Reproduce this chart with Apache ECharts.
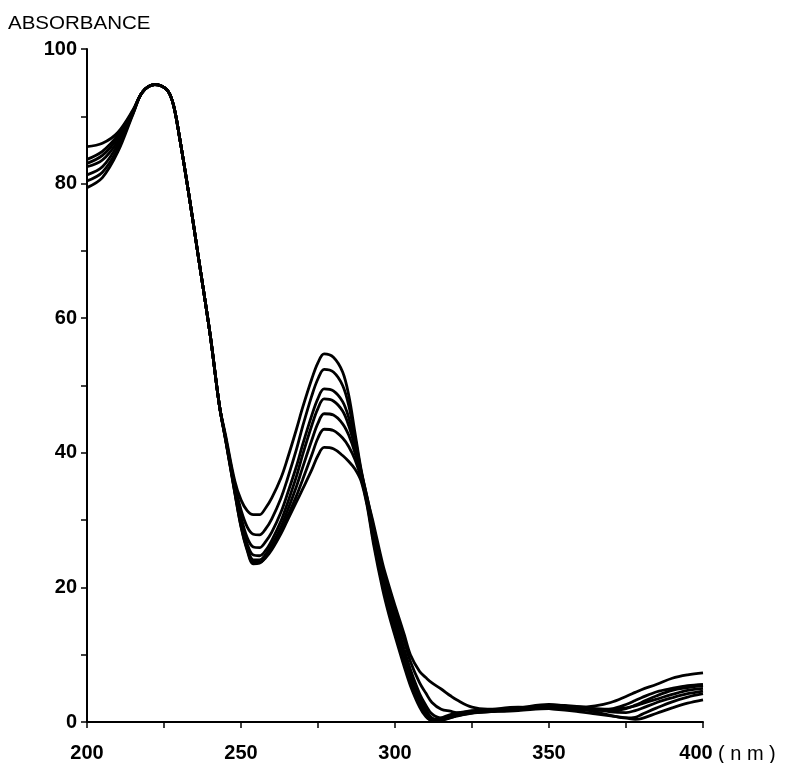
<!DOCTYPE html>
<html>
<head>
<meta charset="utf-8">
<script src="https://cdn.jsdelivr.net/npm/echarts@6/dist/echarts.min.js"></script>
<style>html,body{margin:0;padding:0;background:#fff;}#c{width:785px;height:763px;}</style>
</head>
<body>
<div id="c"></div>
<script>
// wavelength grid (nm)
const wavelength = [200,205,210,215,218,222,226,228,230,233,236,240,243,245,248,250,252,254,256,258,260,263,265,268,270,273,275,277,280,283,285,287,289,291,293,296,298,300,303,305,308,310,312,315,318,320,325,330,340,350,360,365,370,375,378,380,385,390,395,400];

const curve1 = [85.5,86.0,87.6,91.0,93.6,94.7,93.9,91.8,87.0,78.6,69.6,57.5,47.0,42.6,35.8,33.0,31.4,30.8,30.8,31.8,33.3,36.3,39.0,43.5,46.7,51.0,53.4,54.7,54.2,52.0,48.5,43.0,37.5,33.2,29.5,23.5,20.3,17.3,13.0,10.0,7.5,6.6,5.8,4.9,3.9,3.3,2.2,1.9,2.0,2.3,2.2,2.4,2.9,3.8,4.4,4.8,5.6,6.5,7.0,7.3];
const curve2 = [83.6,84.8,87.2,90.9,93.6,94.7,93.9,91.8,87.0,78.6,69.6,57.5,47.0,42.3,35.2,31.5,29.0,27.9,27.8,28.7,30.2,33.3,36.0,40.5,43.9,48.5,51.0,52.4,52.0,50.0,47.0,42.3,37.3,33.3,29.0,22.8,19.5,16.5,12.0,9.0,5.8,4.3,2.9,1.9,1.6,1.4,1.4,1.5,1.7,2.0,1.8,1.7,1.9,2.6,3.2,3.6,4.5,5.0,5.4,5.6];
const curve3 = [83.0,84.2,86.8,90.8,93.6,94.7,93.9,91.8,87.0,78.6,69.6,57.5,47.0,42.2,34.8,30.5,27.4,26.0,25.9,26.8,28.2,31.2,33.8,38.0,41.2,45.6,48.1,49.5,49.2,47.6,45.2,41.5,37.1,33.0,28.5,22.0,18.6,15.5,10.8,7.8,4.2,2.5,1.2,0.6,0.7,0.9,1.3,1.5,1.8,2.2,2.0,1.8,1.7,2.0,2.5,2.9,3.9,4.7,5.1,5.4];
const curve4 = [82.5,83.5,86.3,90.7,93.6,94.7,93.9,91.8,87.0,78.6,69.6,57.5,47.0,42.1,34.5,29.8,26.5,24.8,24.7,25.5,27.0,29.9,32.4,36.5,39.7,44.1,46.6,48.0,47.7,46.2,44.0,40.8,36.8,32.8,28.0,21.3,17.8,14.7,10.0,7.0,3.6,1.9,0.6,0.3,0.6,0.9,1.4,1.6,1.9,2.4,2.2,2.0,1.9,2.1,2.4,2.7,3.4,4.1,4.7,5.0];
const curve5 = [81.3,82.5,85.8,90.6,93.6,94.7,93.9,91.8,87.0,78.6,69.6,57.5,47.0,42.0,34.3,29.4,26.0,24.1,24.1,24.9,26.3,29.0,31.3,35.0,37.8,41.9,44.4,45.8,45.6,44.3,42.6,40.0,36.5,32.5,27.5,20.7,17.2,14.0,9.3,6.4,3.1,1.4,0.3,0.3,0.7,1.0,1.5,1.6,2.0,2.5,2.3,1.9,1.5,1.4,1.7,2.0,2.9,3.6,4.2,4.6];
const curve6 = [80.4,81.7,85.2,90.5,93.6,94.7,93.9,91.8,87.0,78.6,69.6,57.5,47.0,41.9,34.1,29.1,25.7,23.7,23.7,24.5,25.8,28.3,30.4,33.6,36.0,39.7,42.2,43.5,43.3,42.2,40.9,39.0,36.2,32.3,27.0,20.2,16.6,13.4,8.7,5.8,2.6,1.0,0.2,0.4,0.9,1.2,1.6,1.7,2.1,2.6,2.0,1.5,1.0,0.6,0.7,1.1,2.1,3.0,3.7,4.2];
const curve7 = [79.4,80.9,84.7,90.4,93.6,94.7,93.9,91.8,87.0,78.6,69.6,57.5,47.0,41.9,34.0,29.0,25.5,23.5,23.6,24.4,25.6,28.0,29.9,32.7,34.6,37.5,39.6,40.8,40.6,39.6,38.7,37.6,35.8,32.0,26.5,19.7,16.0,12.8,8.2,5.4,2.2,0.8,0.2,0.6,1.1,1.3,1.7,1.8,2.2,2.0,1.5,1.2,0.9,0.6,0.4,0.5,1.3,2.1,2.8,3.3];

const curves = [curve1, curve2, curve3, curve4, curve5, curve6, curve7];

// axis ticks / labels
const xMin = 200, xMax = 400, xTickStep = 25, xLabelStep = 50;
const yMin = 0, yMax = 100, yTickStep = 10, yLabelStep = 20;
const yTitle = 'ABSORBANCE';
const xUnit = '( n m )';

const chart = echarts.init(document.getElementById('c'), null, {renderer: 'canvas'});
const FONT = 'Liberation Sans, Arial, sans-serif';
const labelFont = {color: '#000', fontSize: 20, fontWeight: 'bold', fontFamily: FONT};

const option = {
  backgroundColor: '#fff',
  animation: false,
  grid: {left: 87, right: 82, top: 49, bottom: 39, containLabel: false},
  xAxis: {
    type: 'value', min: xMin, max: xMax, interval: xTickStep,
    splitLine: {show: false},
    axisLine: {lineStyle: {color: '#000', width: 2}},
    axisTick: {show: true, length: 6, inside: false, lineStyle: {color: '#000', width: 1.5}},
    axisLabel: Object.assign({
      margin: 21,
      formatter: v => (v % xLabelStep !== 0 ? '' : (v === xMax ? '{last|' + v + '}' : String(v))),
      rich: {last: {fontSize: 20, fontWeight: 'bold', fontFamily: FONT, color: '#000', padding: [0, 14, 0, 0]}}
    }, labelFont)
  },
  yAxis: {
    type: 'value', min: yMin, max: yMax, interval: yTickStep,
    splitLine: {show: false},
    axisLine: {lineStyle: {color: '#000', width: 2}},
    axisTick: {show: true, length: 6, inside: false, lineStyle: {color: '#000', width: 1.5}},
    axisLabel: Object.assign({margin: 10, formatter: v => (v % yLabelStep === 0 ? String(v) : '')}, labelFont)
  },
  graphic: [
    {type: 'text', left: 8, top: 14, style: {text: yTitle, fill: '#000', fontSize: 19, fontFamily: FONT}, scaleX: 1.08},
    {type: 'text', left: 718, top: 744, style: {text: xUnit, fill: '#000', fontSize: 20, fontFamily: FONT}}
  ],
  series: curves.map((c, k) => ({
    type: 'line',
    name: 'curve' + (k + 1),
    data: wavelength.map((w, i) => [w, c[i]]),
    showSymbol: false,
    smooth: 0.35,
    lineStyle: {color: '#000', width: 2.8},
    z: 2
  }))
};
chart.setOption(option);
</script>
</body>
</html>
